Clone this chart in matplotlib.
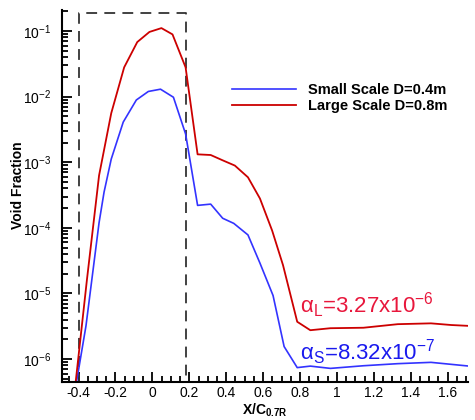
import numpy as np
import matplotlib
matplotlib.use('Agg')
import matplotlib.pyplot as plt
from matplotlib.ticker import LogLocator, FixedLocator, MultipleLocator

plt.rcParams['font.family'] = 'Liberation Sans'
plt.rcParams['mathtext.fontset'] = 'custom'
plt.rcParams['mathtext.rm'] = 'Liberation Sans'
plt.rcParams['mathtext.it'] = 'Liberation Sans:italic'
plt.rcParams['mathtext.bf'] = 'Liberation Sans:bold'
plt.rcParams['axes.unicode_minus'] = False

# large scale D=0.8m
x_large = [-0.42, -0.355, -0.289, -0.223, -0.153, -0.082, -0.016, 0.049, 0.109, 0.18,
           0.245, 0.316, 0.381, 0.447, 0.518, 0.583, 0.649, 0.708, 0.785, 0.856,
           0.965, 1.144, 1.33, 1.51, 1.62, 1.717]
void_large = [3.5e-7, 1.6e-5, 6.3e-4, 5.6e-3, 2.8e-2, 6.8e-2, 9.7e-2, 0.111, 8.9e-2, 2.8e-2,
              1.32e-3, 1.29e-3, 1.07e-3, 8.9e-4, 5.9e-4, 2.8e-4, 9.1e-5, 2.7e-5, 3.7e-6, 2.75e-6,
              2.95e-6, 3.0e-6, 3.4e-6, 3.5e-6, 3.3e-6, 3.2e-6]

# small scale D=0.4m
x_small = [-0.42, -0.36, -0.289, -0.262, -0.223, -0.158, -0.087, -0.022, 0.044, 0.114,
           0.18, 0.245, 0.316, 0.381, 0.441, 0.518, 0.583, 0.654, 0.714, 0.785,
           0.856, 0.965, 1.144, 1.33, 1.51, 1.717]
void_small = [3.2e-7, 3.2e-6, 1.2e-4, 3.5e-4, 1.12e-3, 4.1e-3, 8.9e-3, 1.2e-2, 1.3e-2, 9.8e-3,
              2.7e-3, 2.2e-4, 2.3e-4, 1.4e-4, 1.17e-4, 7.8e-5, 2.9e-5, 9.3e-6, 1.55e-6, 7.4e-7,
              7.8e-7, 7.2e-7, 7.9e-7, 8.5e-7, 8.9e-7, 7.8e-7]

xticks = [-0.4, -0.2, 0, 0.2, 0.4, 0.6, 0.8, 1, 1.2, 1.4, 1.6]
xticklabels = ['-0.4', '-0.2', '0', '0.2', '0.4', '0.6', '0.8', '1', '1.2', '1.4', '1.6']

# dashed box around the blade region
box_x = [-0.4, -0.4, 0.18, 0.18]
box_y = [1e-8, 0.19, 0.19, 1e-8]

fig = plt.figure(figsize=(4.75, 4.2), dpi=100)
ax = fig.add_axes([0.1305, 0.0905, 0.8545, 0.8855])

ax.plot(box_x, box_y, '--', color='#333333', lw=1.3, dashes=(6, 4))
ax.plot(x_small, void_small, color='#3333ff', lw=1.2, label='Small Scale D=0.4m')
ax.plot(x_large, void_large, color='#cc0000', lw=1.3, label='Large Scale D=0.8m')

ax.set_yscale('log')
ax.set_xlim(-0.49, 1.71)
ax.set_ylim(10 ** -6.35, 10 ** -0.68)

ax.xaxis.set_major_locator(FixedLocator(xticks))
ax.set_xticklabels(xticklabels)
ax.xaxis.set_minor_locator(MultipleLocator(0.05))
ax.yaxis.set_major_locator(LogLocator(base=10, numticks=20))
ax.yaxis.set_minor_locator(LogLocator(base=10, subs=np.arange(2, 10), numticks=20))

ax.tick_params(which='both', direction='in', labelsize=10, width=1.3)
ax.tick_params(which='major', length=7)
ax.tick_params(which='minor', length=4)
ax.tick_params(axis='y', which='both', pad=8)
ax.tick_params(axis='x', which='both', pad=3)

for s in ['top', 'right']:
    ax.spines[s].set_visible(False)
for s in ['left', 'bottom']:
    ax.spines[s].set_linewidth(1.5)

ax.set_xlabel(r'$\mathbf{X/C_{0.7R}}$', fontsize=10, labelpad=1)
ax.set_ylabel('Void Fraction', fontsize=10, fontweight='bold', labelpad=4)
ax.yaxis.set_label_coords(-0.09, 0.53)

leg = ax.legend(loc='upper left', bbox_to_anchor=(0.419, 0.804), frameon=False,
                handlelength=4.4, handletextpad=0.8, labelspacing=0.15,
                borderpad=0, borderaxespad=0, prop={'weight': 'bold', 'size': 10.5})

ax.text(0.80, 10 ** -5.30, r'$\mathregular{\alpha_L}$=3.27x10$^{\mathregular{-6}}$',
        color='#e8173c', fontsize=16, va='baseline')
ax.text(0.80, 10 ** -6.02, r'$\mathregular{\alpha_S}$=8.32x10$^{\mathregular{-7}}$',
        color='#1a1aee', fontsize=16, va='baseline')

fig.savefig('out.png', dpi=100)
